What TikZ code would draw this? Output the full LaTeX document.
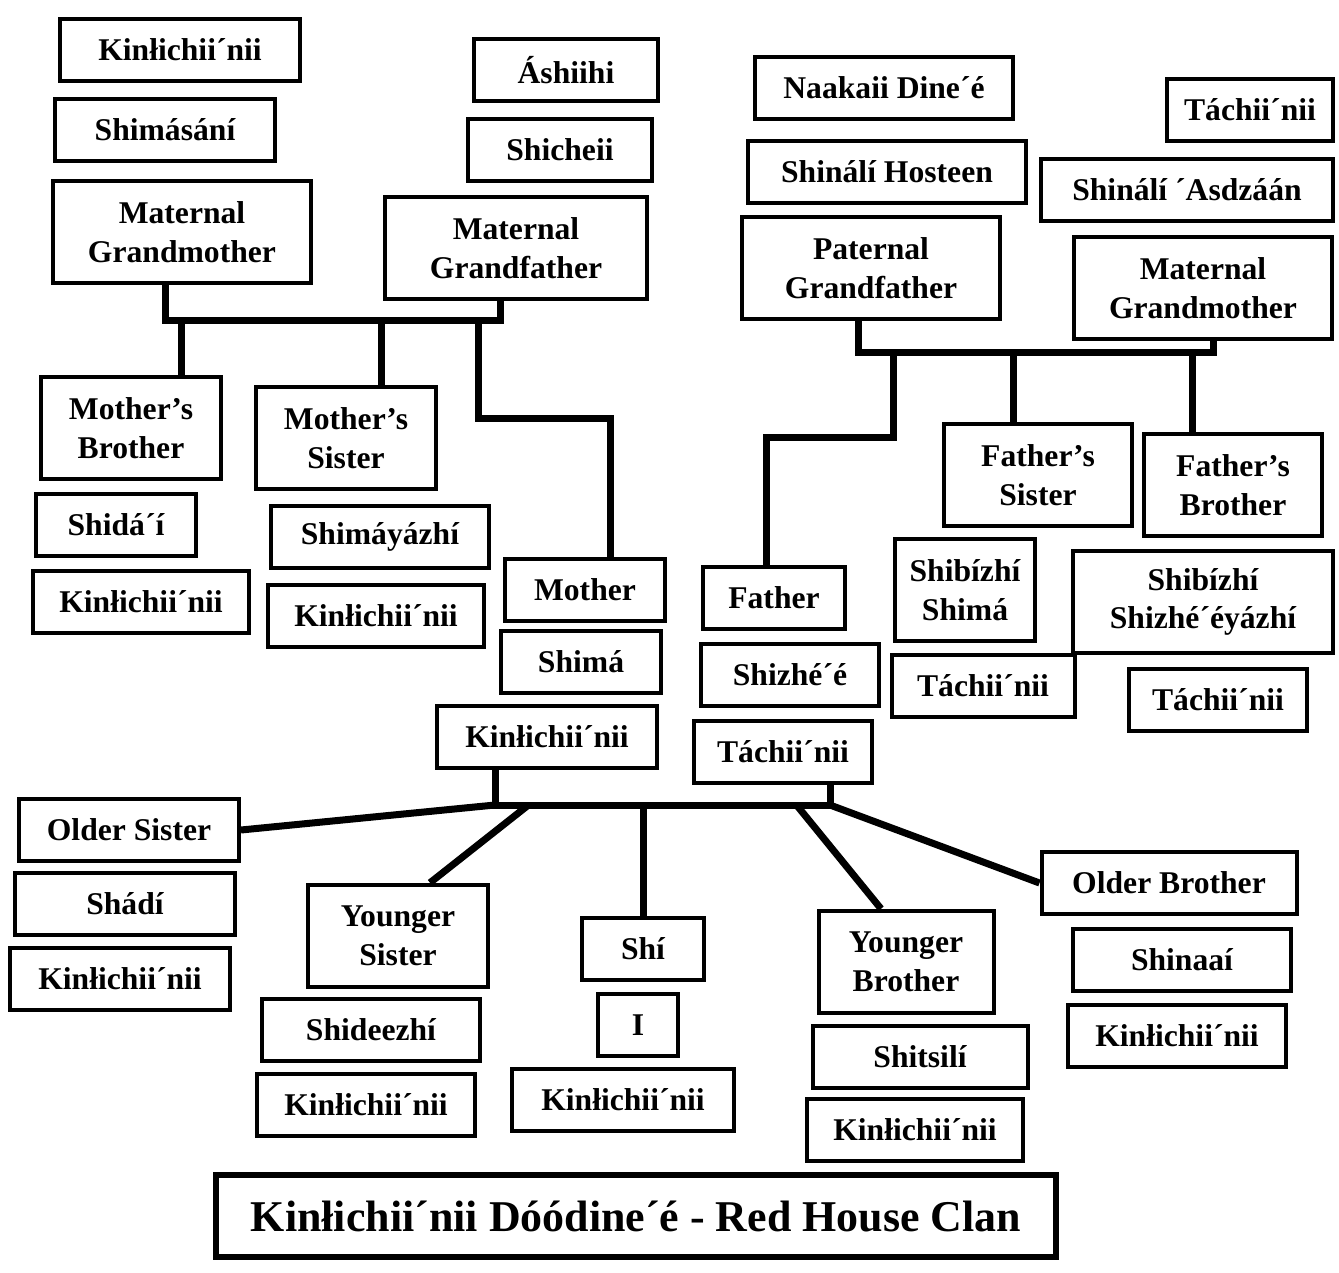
\documentclass[tikz,border=0pt]{standalone}
\usepackage{fontspec}
\setmainfont{Liberation Serif}
\usetikzlibrary{calc}
\begin{document}
\begin{tikzpicture}[x=0.2mm,y=-0.2mm,
  box/.style={draw,rectangle,line width=0.8mm,align=center,inner sep=1mm,minimum height=12.4mm,font=\bfseries\fontsize{18}{22}\selectfont},
  tall/.style={box,minimum height=20.5mm},
  link/.style={line width=1.4mm}]
\fill[white] (0,0) rectangle (1339,1273);
\node[box,minimum width=48mm] (mgmclan) at (180,50) {Kinłichii´nii};
\node[box,minimum width=44mm] (mgmnav) at (165,130) {Shimásání};
\node[tall,minimum width=51.6mm] (mgm) at (182,232) {Maternal\\Grandmother};
\node[box,minimum width=36.8mm] (mgfclan) at (566,70) {Áshiihi};
\node[box,minimum width=36.8mm] (mgfnav) at (560,150) {Shicheii};
\node[tall,minimum width=52.4mm] (mgf) at (516,248) {Maternal\\Grandfather};
\node[box,minimum width=51.6mm] (pgfclan) at (884,88) {Naakaii Dine´é};
\node[box,minimum width=55.6mm] (pgfnav) at (887,172) {Shinálí Hosteen};
\node[tall,minimum width=51.6mm] (pgf) at (871,268) {Paternal\\Grandfather};
\node[box,minimum width=33.2mm] (pgmclan) at (1250,110) {Táchii´nii};
\node[box,minimum width=58.4mm] (pgmnav) at (1187,190) {Shinálí ´Asdzáán};
\node[tall,minimum width=51.6mm] (pgm) at (1203,288) {Maternal\\Grandmother};
\node[tall,minimum width=36mm] (mb) at (131,428) {Mother’s\\Brother};
\node[box,minimum width=32mm] (mbnav) at (116,525) {Shidá´í};
\node[box,minimum width=43mm] (mbclan) at (141,602) {Kinłichii´nii};
\node[tall,minimum width=36mm] (ms) at (346,438) {Mother’s\\Sister};
\node[box,minimum width=43.6mm] (msnav) at (380,537) {Shimáyázhí};
\node[box,minimum width=43.2mm] (msclan) at (376,616) {Kinłichii´nii};
\node[box,minimum width=32mm] (mo) at (585,590) {Mother};
\node[box,minimum width=32mm] (monav) at (581,662) {Shimá};
\node[box,minimum width=44mm] (moclan) at (547,737) {Kinłichii´nii};
\node[box,minimum width=28.4mm] (fa) at (774,598) {Father};
\node[box,minimum width=35.6mm] (fanav) at (790,675) {Shizhé´é};
\node[box,minimum width=35.6mm] (faclan) at (783,752) {Táchii´nii};
\node[tall,minimum width=37.6mm] (fs) at (1038,475) {Father’s\\Sister};
\node[tall,minimum width=28mm] (fsnav) at (965,590) {Shibízhí\\Shimá};
\node[box,minimum width=36.6mm] (fsclan) at (983,686) {Táchii´nii};
\node[tall,minimum width=35.6mm] (fb) at (1233,485) {Father’s\\Brother};
\node[tall,minimum width=52mm] (fbnav) at (1203,602) {Shibízhí\\Shizhé´éyázhí};
\node[box,minimum width=35.6mm] (fbclan) at (1218,700) {Táchii´nii};
\node[box,minimum width=44mm] (os) at (129,830) {Older Sister};
\node[box,minimum width=44mm] (osnav) at (125,904) {Shádí};
\node[box,minimum width=44mm] (osclan) at (120,979) {Kinłichii´nii};
\node[tall,minimum width=36mm] (ys) at (398,936) {Younger\\Sister};
\node[box,minimum width=43.6mm] (ysnav) at (371,1030) {Shideezhí};
\node[box,minimum width=43.6mm] (ysclan) at (366,1105) {Kinłichii´nii};
\node[box,minimum width=24.4mm] (me) at (643,949) {Shí};
\node[box,minimum width=16mm] (meen) at (638,1025) {I};
\node[box,minimum width=44.4mm] (meclan) at (623,1100) {Kinłichii´nii};
\node[tall,minimum width=35mm] (yb) at (906,962) {Younger\\Brother};
\node[box,minimum width=43mm] (ybnav) at (920,1057) {Shitsilí};
\node[box,minimum width=43.2mm] (ybclan) at (915,1130) {Kinłichii´nii};
\node[box,minimum width=51mm] (ob) at (1169,883) {Older Brother};
\node[box,minimum width=43.6mm] (obnav) at (1182,960) {Shinaaí};
\node[box,minimum width=43.6mm] (obclan) at (1177,1036) {Kinłichii´nii};
\node[box,line width=1.3mm,minimum width=168mm,minimum height=16.4mm,font=\bfseries\fontsize{25}{30}\selectfont] (title) at (636,1216) {Kinłichii´nii Dóódine´é - Red House Clan};
\coordinate (mbar) at (0,320);
\coordinate (mbend) at (478,418);
\draw[link] ([xshift=-3.4mm]mgm.south) -- ([xshift=-3.4mm]mgm.south |- mbar) -- ([xshift=-3.2mm]mgf.south |- mbar) -- ([xshift=-3.2mm]mgf.south);
\draw[link] ([xshift=10mm]mb.north) -- ([xshift=10mm]mb.north |- mbar);
\draw[link] ([xshift=7mm]ms.north) -- ([xshift=7mm]ms.north |- mbar);
\draw[link] ([xshift=5mm]mo.north) |- (mbend) -- (mbend |- mbar);
\coordinate (pbar) at (0,352);
\coordinate (pbend) at (893,437);
\draw[link] ([xshift=-2.6mm]pgf.south) -- ([xshift=-2.6mm]pgf.south |- pbar) -- ([xshift=2mm]pgm.south |- pbar) -- ([xshift=2mm]pgm.south);
\draw[link] ([xshift=-5mm]fs.north) -- ([xshift=-5mm]fs.north |- pbar);
\draw[link] ([xshift=-8.2mm]fb.north) -- ([xshift=-8.2mm]fb.north |- pbar);
\draw[link] ([xshift=-1.5mm]fa.north) |- (pbend) -- (pbend |- pbar);
\coordinate (sbl) at (495,805);
\coordinate (sbr) at (830,805);
\draw[link] (moclan.south -| sbl) -- (sbl) -- (sbr) -- (faclan.south -| sbr);
\draw[link] (sbl) -- (os.east);
\draw[link] ([xshift=6.4mm]ys.north) -- ($(sbl)!0.1!(sbr)$);
\draw[link] (me.north) -- (me.north |- sbl);
\draw[link] ([xshift=-5mm]yb.north) -- ($(sbl)!0.9!(sbr)$);
\draw[link] (sbr) -- (ob.west);
\end{tikzpicture}
\end{document}
